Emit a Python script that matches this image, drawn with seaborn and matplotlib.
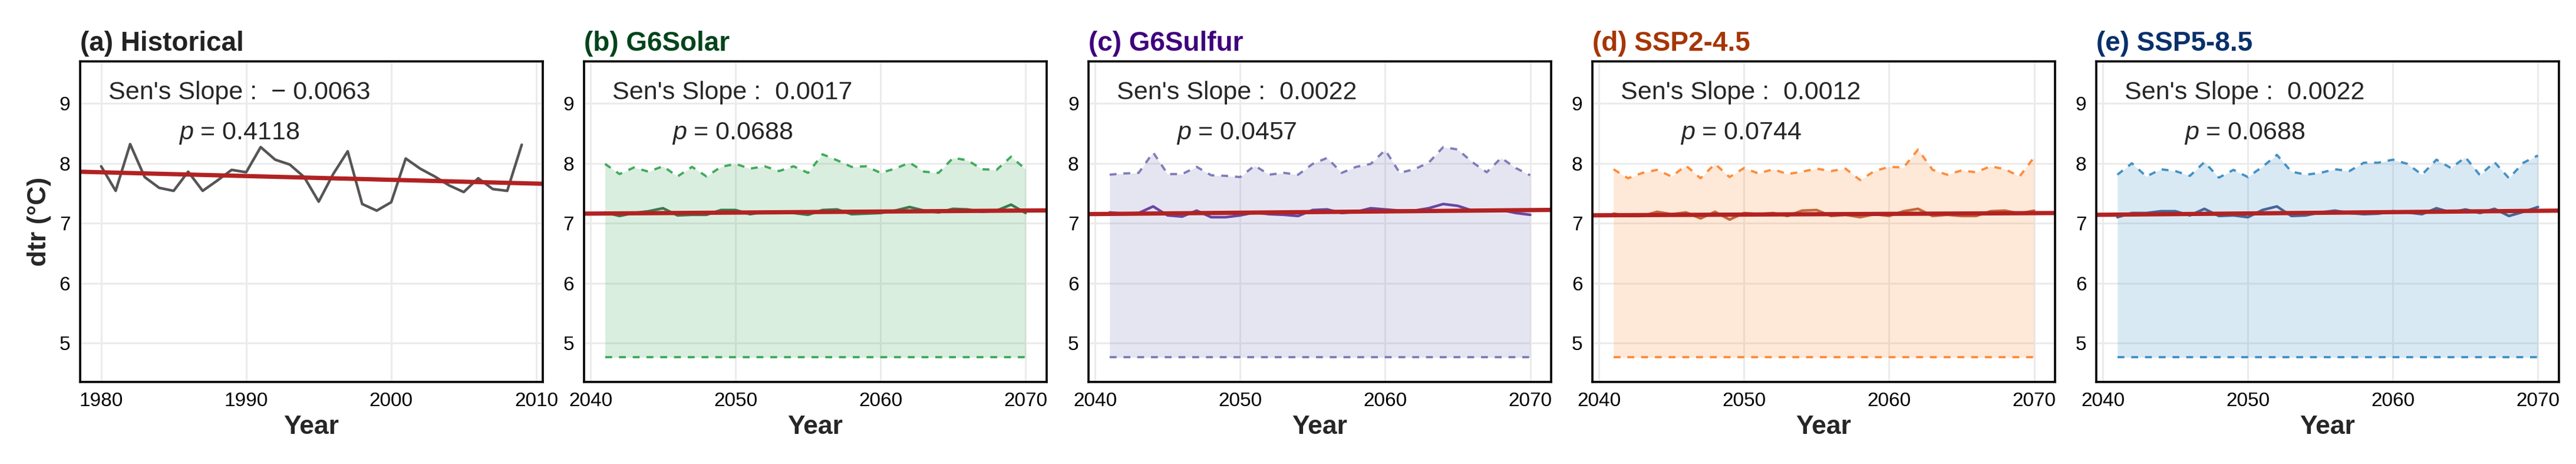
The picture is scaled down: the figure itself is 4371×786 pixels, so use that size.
import numpy as np
import pandas as pd
import seaborn as sns
import matplotlib.pyplot as plt

# years
hist_years = list(range(1980, 2010))
fut_years = list(range(2041, 2071))

# (a) historical dtr
hist_dtr = [7.95, 7.54, 8.32, 7.77, 7.59, 7.54, 7.86, 7.54, 7.71, 7.89,
            7.85, 8.27, 8.06, 7.98, 7.77, 7.36, 7.82, 8.20, 7.32, 7.21,
            7.35, 8.08, 7.91, 7.78, 7.63, 7.52, 7.75, 7.57, 7.54, 8.31]

# (b) G6Solar
solar_mean = [7.18, 7.12, 7.17, 7.20, 7.25, 7.13, 7.14, 7.14, 7.22, 7.22,
              7.15, 7.19, 7.19, 7.17, 7.14, 7.22, 7.23, 7.15, 7.16, 7.17,
              7.21, 7.27, 7.21, 7.18, 7.24, 7.23, 7.19, 7.21, 7.31, 7.17]
solar_upper = [7.99, 7.82, 7.93, 7.86, 7.95, 7.78, 7.94, 7.78, 7.94, 7.99,
               7.91, 7.95, 7.87, 7.95, 7.84, 8.15, 8.05, 7.94, 7.95, 7.84,
               7.91, 8.01, 7.86, 7.84, 8.09, 8.05, 7.90, 7.89, 8.11, 7.90]

# (c) G6Sulfur
sulfur_mean = [7.18, 7.16, 7.17, 7.28, 7.13, 7.11, 7.21, 7.10, 7.10, 7.13,
               7.18, 7.15, 7.14, 7.12, 7.22, 7.23, 7.17, 7.19, 7.25, 7.23,
               7.21, 7.21, 7.25, 7.32, 7.29, 7.21, 7.20, 7.22, 7.17, 7.14]
sulfur_upper = [7.81, 7.83, 7.84, 8.18, 7.82, 7.82, 7.94, 7.80, 7.79, 7.77,
                7.96, 7.81, 7.84, 7.81, 7.99, 8.09, 7.84, 7.94, 7.99, 8.22,
                7.84, 7.90, 8.01, 8.27, 8.23, 8.02, 7.85, 8.09, 7.92, 7.80]

# (d) SSP2-4.5
ssp245_mean = [7.16, 7.12, 7.12, 7.19, 7.15, 7.18, 7.08, 7.19, 7.06, 7.17,
               7.15, 7.17, 7.12, 7.21, 7.22, 7.12, 7.14, 7.10, 7.15, 7.12,
               7.20, 7.24, 7.12, 7.14, 7.12, 7.12, 7.20, 7.21, 7.16, 7.21]
ssp245_upper = [7.90, 7.75, 7.84, 7.89, 7.78, 7.96, 7.75, 7.99, 7.77, 7.92,
                7.83, 7.90, 7.82, 7.86, 7.91, 7.87, 7.91, 7.72, 7.87, 7.94,
                7.93, 8.23, 7.89, 7.81, 7.88, 7.85, 7.95, 7.90, 7.78, 8.10]

# (e) SSP5-8.5
ssp585_mean = [7.10, 7.17, 7.17, 7.20, 7.20, 7.13, 7.24, 7.12, 7.13, 7.10,
               7.22, 7.28, 7.12, 7.13, 7.18, 7.21, 7.17, 7.15, 7.16, 7.20,
               7.18, 7.15, 7.25, 7.18, 7.23, 7.17, 7.24, 7.12, 7.19, 7.27]
ssp585_upper = [7.81, 8.00, 7.78, 7.90, 7.87, 7.79, 8.02, 7.76, 7.89, 7.77,
                7.94, 8.14, 7.86, 7.81, 7.84, 7.90, 7.87, 8.01, 8.01, 8.06,
                7.99, 7.81, 8.06, 7.92, 8.10, 7.80, 8.02, 7.75, 8.01, 8.13]

lower_bound = 4.76  # same lower envelope in every scenario

titles = ["(a) Historical", "(b) G6Solar", "(c) G6Sulfur", "(d) SSP2-4.5", "(e) SSP5-8.5"]
sen_slopes = [-0.0063, 0.0017, 0.0022, 0.0012, 0.0022]
p_values = ["0.4118", "0.0688", "0.0457", "0.0744", "0.0688"]
trend_start = [7.85, 7.162, 7.155, 7.133, 7.143]  # trend value at first year

title_colors = ["#222222", "#00441b", "#3f007d", "#a63603", "#08306b"]
mean_colors = ["#555555", "#3b7a4e", "#6a45a3", "#c2693b", "#43679a"]
band_colors = [None, "#41ab5d", "#807dba", "#fd8d3c", "#4292c6"]

sns.set_style("whitegrid", {"grid.color": "#ebebeb", "axes.edgecolor": "black"})
plt.rcParams['font.family'] = ['Liberation Sans', 'DejaVu Sans']
plt.rcParams['mathtext.fontset'] = 'custom'
plt.rcParams['mathtext.rm'] = 'Liberation Sans'
plt.rcParams['mathtext.it'] = 'Liberation Sans:italic'

fig = plt.figure(figsize=(21.855, 3.93), dpi=200)
lefts = [0.0311, 0.2267, 0.4226, 0.6182, 0.8138]

series = [
    (hist_years, hist_dtr, None),
    (fut_years, solar_mean, solar_upper),
    (fut_years, sulfur_mean, sulfur_upper),
    (fut_years, ssp245_mean, ssp245_upper),
    (fut_years, ssp585_mean, ssp585_upper),
]

renderer = fig.canvas.get_renderer()

for i, (yrs, mean, upper) in enumerate(series):
    ax = fig.add_axes([lefts[i], 0.1768, 0.1796, 0.6908])
    df = pd.DataFrame({"Year": yrs, "dtr": mean})

    if upper is not None:
        c = band_colors[i]
        lower = [lower_bound] * len(yrs)
        ax.fill_between(yrs, lower, upper, color=c, alpha=0.2, lw=0, zorder=1)
        ax.plot(yrs, upper, color=c, lw=1.4, dashes=(3, 3), zorder=2)
        ax.plot(yrs, lower, color=c, lw=1.4, dashes=(3, 3), zorder=2)

    sns.lineplot(data=df, x="Year", y="dtr", ax=ax, color=mean_colors[i], lw=1.6, zorder=3)
    ax.axline((yrs[0], trend_start[i]), slope=sen_slopes[i], color="#b22222", lw=2.6, zorder=4)

    span = yrs[-1] - yrs[0]
    ax.set_xlim(yrs[0] - 0.05 * span, yrs[-1] + 0.05 * span)
    ax.set_ylim(4.35, 9.70)
    ticks = [1980, 1990, 2000, 2010] if i == 0 else [2040, 2050, 2060, 2070]
    ax.set_xticks(ticks)
    ax.set_yticks([5, 6, 7, 8, 9])
    ax.tick_params(length=0, labelsize=12, pad=6, colors="black")
    ax.grid(True, color="#ebebeb", lw=1.1)
    ax.set_axisbelow(True)
    for s in ax.spines.values():
        s.set_color("black")
        s.set_linewidth(1.3)
        s.set_zorder(6)

    ax.set_xlabel("Year", fontsize=16, fontweight="bold", labelpad=3)
    if i == 0:
        ax.set_ylabel("dtr (°C)", fontsize=16, fontweight="bold", labelpad=5)
    else:
        ax.set_ylabel("")
    ax.set_title(titles[i], loc="left", fontsize=16.5, fontweight="bold",
                 color=title_colors[i], pad=6.5)

    slope_txt = f"{sen_slopes[i]:.4f}".replace("-", "\u2212 ")
    t1 = ax.text(0.061, 0.902, f"Sen's Slope :  {slope_txt}", transform=ax.transAxes,
                 ha="left", va="center", fontsize=15.5, zorder=7)
    # centre the p-value line under the slope line
    bb = t1.get_window_extent(renderer).transformed(ax.transAxes.inverted())
    ax.text((bb.x0 + bb.x1) / 2, 0.775, f"$p$ = {p_values[i]}", transform=ax.transAxes,
            ha="center", va="center", fontsize=15.5, zorder=7)

fig.savefig("out.png", dpi=200)
